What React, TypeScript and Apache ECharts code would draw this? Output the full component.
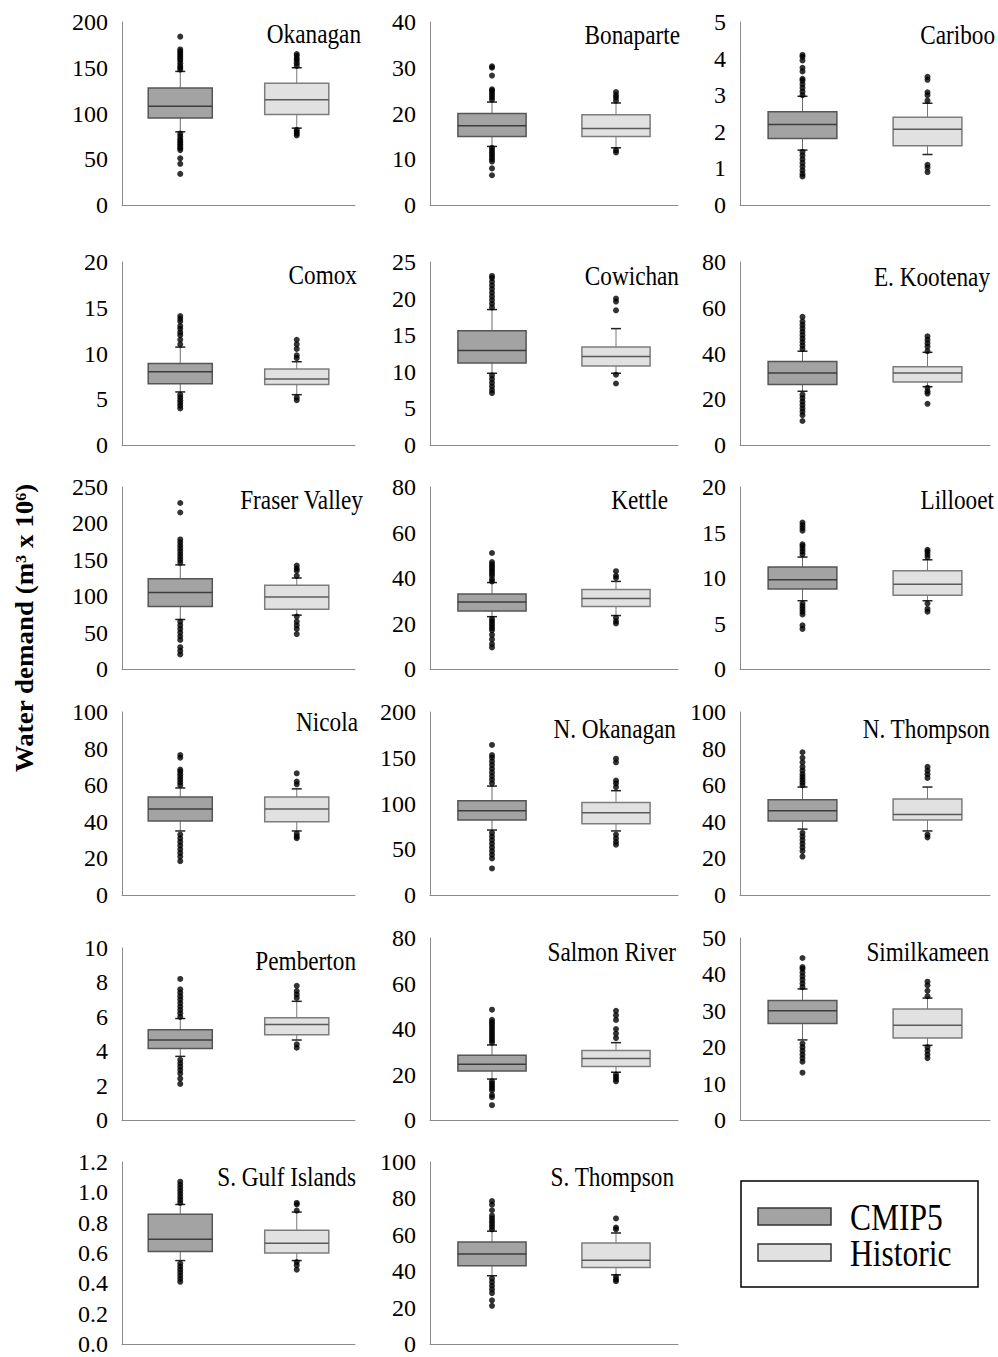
import React, { useEffect, useRef } from "react";
import * as echarts from "echarts";

const regions = [
  "Okanagan", "Bonaparte", "Cariboo",
  "Comox", "Cowichan", "E. Kootenay",
  "Fraser Valley", "Kettle", "Lillooet",
  "Nicola", "N. Okanagan", "N. Thompson",
  "Pemberton", "Salmon River", "Similkameen",
  "S. Gulf Islands", "S. Thompson",
];
const scenarios = ["CMIP5", "Historic"];
const yMax = [200, 40, 5, 20, 25, 80, 250, 80, 20, 100, 200, 100, 10, 80, 50, 1.2, 100];
const yStep = [50, 10, 1, 5, 5, 20, 50, 20, 5, 20, 50, 20, 2, 20, 10, 0.2, 20];

// [lower whisker, Q1, median, Q3, upper whisker]
const cmip5Stats = [
  [80, 95, 108, 128, 146],
  [12.8, 15, 17.3, 20, 22.5],
  [1.5, 1.82, 2.2, 2.55, 2.97],
  [5.8, 6.7, 8.0, 8.9, 10.7],
  [9.8, 11.2, 12.9, 15.6, 18.5],
  [23.5, 26.5, 31.5, 36.5, 41],
  [68, 86, 105, 124, 143],
  [23, 25.5, 29.5, 33, 38],
  [7.5, 8.8, 9.8, 11.2, 12.3],
  [35, 40.5, 47, 53.5, 58.5],
  [71, 82, 92, 103, 119],
  [36, 40.5, 46, 52, 59],
  [3.7, 4.15, 4.65, 5.25, 5.9],
  [18, 21.5, 24.5, 28.5, 33],
  [22, 26.5, 30, 32.8, 36],
  [0.55, 0.61, 0.69, 0.855, 0.92],
  [37.5, 43, 49.5, 56, 62],
];
const historicStats = [
  [84, 99, 115, 133, 150],
  [12.5, 15, 16.7, 19.7, 22.3],
  [1.38, 1.62, 2.07, 2.4, 2.78],
  [5.5, 6.6, 7.2, 8.3, 9.1],
  [9.8, 10.8, 12.1, 13.4, 15.9],
  [25.5, 27.5, 31.5, 34.2, 40.5],
  [74, 82, 99, 115, 125],
  [23.5, 27.5, 31, 35, 38.5],
  [7.5, 8.1, 9.3, 10.8, 12.0],
  [35, 40, 47, 53.5, 58],
  [70, 78, 90, 101, 114],
  [35, 41, 44, 52.5, 59],
  [4.65, 4.95, 5.55, 5.95, 6.9],
  [21, 23.5, 27, 30.5, 34],
  [20.5, 22.5, 26, 30.5, 33.5],
  [0.55, 0.6, 0.665, 0.75, 0.87],
  [38, 42, 46, 55.5, 61],
];
const cmip5Outliers = [
  [148, 150, 152, 155, 158, 160, 162, 164, 166, 168, 170, 184, 78, 75, 72, 70, 68, 66, 64, 62, 60, 51, 45, 34],
  [23, 23.5, 24, 24.5, 25, 25.3, 28.3, 30, 30.3, 12.5, 12, 11.5, 11, 10.5, 10, 9.5, 8, 6.5],
  [3.0, 3.1, 3.2, 3.3, 3.4, 3.45, 3.65, 3.75, 3.95, 4.05, 4.1, 1.45, 1.35, 1.25, 1.15, 1.05, 0.95, 0.85, 0.78],
  [11, 11.5, 12, 12.3, 12.7, 13, 13.5, 13.8, 14.1, 5.5, 5.2, 4.9, 4.6, 4.3, 4.0],
  [18.8, 19.3, 19.8, 20.3, 20.8, 21.3, 21.8, 22.3, 22.8, 23.1, 9.5, 9.0, 8.5, 8.0, 7.5, 7.1],
  [42, 43.5, 45, 46.5, 48, 49.5, 51, 52.5, 54, 56, 22, 20.5, 19, 17.5, 16, 14.5, 13, 10.5],
  [146, 150, 154, 158, 162, 166, 170, 174, 178, 215, 228, 65, 60, 55, 50, 45, 40, 30, 25, 20],
  [38.5, 39.5, 41, 42, 43, 44, 45, 46, 47, 51, 22, 21, 20, 19, 18, 17, 15, 13, 11, 9.5],
  [12.6, 12.9, 13.2, 13.5, 13.7, 15.2, 15.5, 15.8, 16.1, 7.2, 6.9, 6.6, 6.3, 6.0, 4.8, 4.4],
  [60, 61.5, 63, 64.5, 66, 67.5, 68.5, 75, 76.5, 33, 31, 29, 27, 25, 23, 21, 18.5],
  [122, 126, 130, 134, 138, 142, 146, 150, 153, 164, 68, 64, 60, 56, 52, 48, 44, 40, 29],
  [60, 61.5, 63, 64.5, 66, 68, 70, 72.5, 75, 78, 34, 32, 30, 28, 26, 24, 21],
  [6.0, 6.2, 6.4, 6.6, 6.8, 7.0, 7.2, 7.4, 7.6, 8.2, 3.5, 3.3, 3.1, 2.9, 2.7, 2.4, 2.1],
  [34, 35, 36, 37, 38, 39, 40, 41, 42, 43, 44, 48.5, 17, 16, 15, 14, 13, 11, 10, 6.5],
  [36.5, 37.5, 38.5, 39.5, 40.5, 41.5, 42, 44.5, 21, 20, 19, 18, 17, 16, 13],
  [0.93, 0.95, 0.97, 0.99, 1.01, 1.03, 1.05, 1.07, 0.53, 0.51, 0.49, 0.47, 0.45, 0.43, 0.41],
  [63, 64.5, 66, 67.5, 69, 70.5, 73.5, 76.5, 78.5, 36, 34, 32, 30, 28, 24, 21],
];
const historicOutliers = [
  [152, 155, 158, 160, 163, 165, 82, 80, 78, 76],
  [22.8, 23.5, 24, 24.7, 12, 11.5],
  [2.85, 3.0, 3.08, 3.42, 3.5, 1.1, 1.02, 0.9],
  [9.5, 9.8, 10.5, 11.0, 11.5, 5.2, 4.9],
  [18.4, 19.6, 20.0, 9.6, 8.4],
  [41, 43, 44.5, 46, 47.5, 25, 23.5, 22.5, 18],
  [128, 135, 138, 142, 72, 65, 60, 55, 48],
  [40, 41, 43, 22.5, 21, 20],
  [12.3, 12.6, 12.9, 13.1, 7.2, 6.6, 6.3],
  [60.5, 62, 66.5, 33.5, 32, 31],
  [118, 122, 125, 145, 149, 66, 62, 58, 55],
  [64, 66, 68, 70, 33, 31.5],
  [7.1, 7.3, 7.5, 7.8, 4.4, 4.2],
  [36, 38, 40, 44, 46, 48, 20, 19, 18, 17],
  [34, 35.5, 37, 38, 20, 19, 18, 17],
  [0.88, 0.92, 0.93, 0.54, 0.52, 0.49],
  [63, 64, 69, 37, 35.5, 34.5],
];

// ---- layout (pixels) ----
const colLeft = [122, 430, 740];
const colWidth = [233, 248, 250];
const rowTop = [22, 262, 487, 712, 938, 1162];
const rowZero = [205, 445, 669, 895, 1120, 1344];
const topOverride: Record<number, number> = { 12: 948 };
const titleRight = [361, 680, 995, 357, 679, 990, 363, 668, 994, 358, 676, 990, 356, 676, 989, 356, 674];
const titleY = [34, 35, 35, 275, 276, 277, 500, 500, 500, 722, 729, 729, 961, 952, 952, 1177, 1177];

const SERIF = '"Liberation Serif", "Times New Roman", Times, serif';
const boxStyles = [
  { fill: "#a3a3a3", stroke: "#555555", median: "#3c3c3c", whisker: "#6a6a6a" },
  { fill: "#e1e1e1", stroke: "#7c7c7c", median: "#5a5a5a", whisker: "#7a7a7a" },
];

function renderBox(styleIdx: number) {
  return (params: any, api: any) => {
    const xi = api.value(0);
    const lo = api.coord([xi, api.value(1)]);
    const q1 = api.coord([xi, api.value(2)]);
    const md = api.coord([xi, api.value(3)]);
    const q3 = api.coord([xi, api.value(4)]);
    const hi = api.coord([xi, api.value(5)]);
    const band = api.size([1, 0])[0];
    const bw = band * 0.55;
    const cx = md[0];
    const cap = 5;
    const s = boxStyles[styleIdx];
    const wl = { stroke: s.whisker, lineWidth: 1 };
    return {
      type: "group",
      children: [
        { type: "line", shape: { x1: cx, y1: q3[1], x2: cx, y2: hi[1] }, style: wl },
        { type: "line", shape: { x1: cx, y1: q1[1], x2: cx, y2: lo[1] }, style: wl },
        { type: "line", shape: { x1: cx - cap, y1: hi[1], x2: cx + cap, y2: hi[1] }, style: { stroke: "#222", lineWidth: 1.5 } },
        { type: "line", shape: { x1: cx - cap, y1: lo[1], x2: cx + cap, y2: lo[1] }, style: { stroke: "#222", lineWidth: 1.5 } },
        {
          type: "rect",
          shape: { x: cx - bw / 2, y: q3[1], width: bw, height: q1[1] - q3[1] },
          style: { fill: s.fill, stroke: s.stroke, lineWidth: 1.5 },
        },
        {
          type: "line",
          shape: { x1: cx - bw / 2, y1: md[1], x2: cx + bw / 2, y2: md[1] },
          style: { stroke: s.median, lineWidth: 1.5 },
        },
      ],
    };
  };
}

function buildOption() {
  const grid: any[] = [];
  const xAxis: any[] = [];
  const yAxis: any[] = [];
  const series: any[] = [];
  const graphic: any[] = [];

  regions.forEach((name, i) => {
    const col = i % 3;
    const row = Math.floor(i / 3);
    const top = topOverride[i] ?? rowTop[row];
    grid.push({ left: colLeft[col], top, width: colWidth[col], height: rowZero[row] - top });
    xAxis.push({
      type: "category",
      gridIndex: i,
      data: scenarios,
      axisLine: { show: true, lineStyle: { color: "#8a8a8a", width: 1 } },
      axisTick: { show: false },
      axisLabel: { show: false },
      splitLine: { show: false },
    });
    const decimals = yStep[i] < 1 ? 1 : 0;
    yAxis.push({
      type: "value",
      gridIndex: i,
      min: 0,
      max: yMax[i],
      interval: yStep[i],
      axisLine: { show: true, lineStyle: { color: "#8a8a8a", width: 1 } },
      axisTick: { show: false },
      splitLine: { show: false },
      axisLabel: {
        margin: 14,
        color: "#000",
        fontFamily: SERIF,
        fontSize: 24,
        formatter: (v: number) => v.toFixed(decimals),
      },
    });
    [cmip5Stats, historicStats].forEach((stats, k) => {
      series.push({
        type: "custom",
        name: scenarios[k],
        xAxisIndex: i,
        yAxisIndex: i,
        renderItem: renderBox(k),
        encode: { x: 0, y: [1, 2, 3, 4, 5] },
        data: [[k, ...stats[i]]],
        z: 2,
      });
    });
    [cmip5Outliers, historicOutliers].forEach((outs, k) => {
      series.push({
        type: "scatter",
        name: scenarios[k] + " outliers",
        xAxisIndex: i,
        yAxisIndex: i,
        symbol: "circle",
        symbolSize: 6,
        itemStyle: { color: "#000" },
        data: outs[i].map((v) => [k, v]),
        z: 3,
      });
    });
    graphic.push({
      type: "text",
      x: titleRight[i],
      y: titleY[i],
      scaleX: 0.83,
      style: {
        text: name,
        align: "right",
        verticalAlign: "middle",
        fill: "#000",
        font: `28px ${SERIF}`,
      },
    });
  });

  // y-axis title
  graphic.push({
    type: "text",
    x: 25,
    y: 628,
    rotation: Math.PI / 2,
    scaleY: 0.9,
    style: {
      text: "Water demand (m³ x 10⁶)",
      align: "center",
      verticalAlign: "middle",
      fill: "#000",
      font: `bold 27px ${SERIF}`,
    },
  });

  // legend
  graphic.push({
    type: "rect",
    shape: { x: 741, y: 1181, width: 237, height: 106 },
    style: { fill: "#fff", stroke: "#000", lineWidth: 1.5 },
  });
  scenarios.forEach((s, k) => {
    graphic.push({
      type: "rect",
      shape: { x: 758, y: 1208 + k * 36, width: 73, height: 17 },
      style: { fill: boxStyles[k].fill, stroke: "#333", lineWidth: 1.5 },
    });
    graphic.push({
      type: "text",
      x: 850,
      y: 1217 + k * 36,
      scaleX: 0.83,
      style: {
        text: s,
        align: "left",
        verticalAlign: "middle",
        fill: "#000",
        font: `38px ${SERIF}`,
      },
    });
  });

  return {
    animation: false,
    backgroundColor: "#fff",
    grid,
    xAxis,
    yAxis,
    series,
    graphic,
  };
}

export default function App() {
  const ref = useRef<HTMLDivElement>(null);
  useEffect(() => {
    document.body.style.margin = "0";
    if (!ref.current) return;
    const chart = echarts.init(ref.current, undefined, { renderer: "svg" });
    chart.setOption(buildOption() as any);
    return () => chart.dispose();
  }, []);
  return <div ref={ref} style={{ width: 998, height: 1357 }} />;
}
